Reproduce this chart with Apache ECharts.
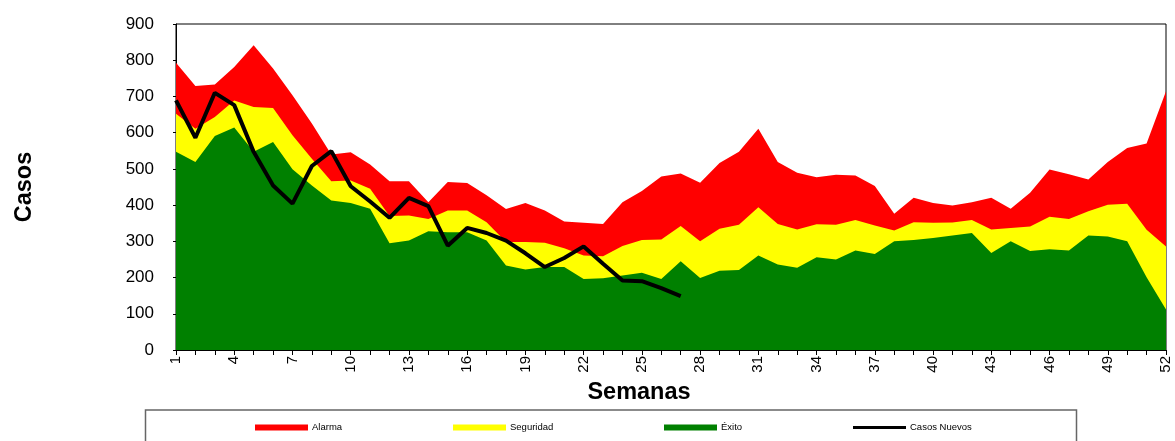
<!DOCTYPE html>
<html>
<head>
<meta charset="utf-8">
<script src="https://cdn.jsdelivr.net/npm/echarts@6/dist/echarts.min.js"></script>
<style>html,body{margin:0;padding:0;background:#fff}#c{width:1175px;height:441px}</style>
</head>
<body>
<div id="c"></div>
<script>
const weeks = Array.from({length: 52}, (_, i) => String(i + 1));
const alarma = [793,729,733,781,841,777,703,625,540,546,512,466,466,408,464,461,427,389,
  406,385,355,351,348,408,439,479,487,462,516,547,611,519,489,477,484,
  482,453,376,420,406,399,408,420,390,434,498,485,471,519,558,570,714];
const seguridad = [652,611,643,689,671,668,593,528,466,468,445,370,371,362,385,385,353,298,
  298,296,281,261,259,287,304,305,342,300,335,346,394,348,333,347,346,
  359,344,330,353,351,352,359,333,337,341,368,362,383,401,404,332,286];
const exito = [547,519,591,614,547,574,499,454,413,406,390,295,302,328,325,325,302,233,
  222,229,229,196,198,206,213,196,245,199,219,221,261,236,227,256,250,
  275,265,300,304,309,316,323,268,300,273,278,275,316,313,300,201,112];
const casosNuevos = [689,586,710,676,547,454,404,508,549,452,410,365,420,397,288,337,323,302,
  267,229,254,286,238,192,190,171,149];

const chart = echarts.init(document.getElementById('c'));
const font = 'Liberation Sans, Arial, sans-serif';
function areaSeries(name, data, color) {
  return {
    name, type: 'line', data, symbol: 'none', showSymbol: false,
    lineStyle: {width: 0, color}, itemStyle: {color},
    areaStyle: {color, opacity: 1}, silent: true, animation: false
  };
}
function legend(name, left, h) {
  return {
    data: [{name, icon: 'rect'}], left, top: 422, itemWidth: 53, itemHeight: h, itemGap: 0,
    padding: 0, textStyle: {fontSize: 9.5, lineHeight: 11, fontFamily: font, color: '#000', padding: [0,0,0,-1]},
    selectedMode: false
  };
}
chart.setOption({
  animation: false,
  backgroundColor: '#fff',
  grid: {left: 176, right: 9, top: 24, bottom: 91, show: true, borderColor: '#000', borderWidth: 1, backgroundColor: 'transparent'},
  xAxis: {
    type: 'category', data: weeks, boundaryGap: false,
    axisLine: {lineStyle: {color: '#000', width: 1}},
    axisTick: {interval: 0, length: 5, lineStyle: {color: '#000'}},
    axisLabel: {interval: 2, rotate: 90, fontSize: 15, fontFamily: font, color: '#000', margin: 6},
    splitLine: {show: false}
  },
  yAxis: {
    type: 'value', min: 0, max: 900, interval: 100,
    name: 'Casos', nameLocation: 'middle', nameGap: 139,
    nameTextStyle: {fontSize: 23.5, fontWeight: 'bold', fontFamily: font, color: '#000'},
    axisLine: {show: true, lineStyle: {color: '#000'}},
    axisTick: {show: true, length: 3, lineStyle: {color: '#000'}},
    axisLabel: {fontSize: 17, fontFamily: font, color: '#000', margin: 22},
    splitLine: {show: false}
  },
  legend: [
    legend('Alarma', 255, 6),
    legend('Seguridad', 453, 6),
    legend('Éxito', 664, 6),
    legend('Casos Nuevos', 853, 3)
  ],
  graphic: [
    {type: 'rect', shape: {x: 145.5, y: 410, width: 931, height: 40}, style: {fill: 'none', stroke: '#666', lineWidth: 1.5}, silent: true, z: -1},
    {type: 'text', x: 639, y: 393, style: {text: 'Semanas', fontSize: 23.5, fontWeight: 'bold', fontFamily: font, fill: '#000', align: 'center', verticalAlign: 'middle'}}
  ],
  series: [
    areaSeries('Alarma', alarma, '#ff0000'),
    areaSeries('Seguridad', seguridad, '#ffff00'),
    areaSeries('Éxito', exito, '#008000'),
    {name: 'Casos Nuevos', type: 'line', data: casosNuevos, symbol: 'none', showSymbol: false,
     lineStyle: {width: 4, color: '#000'}, itemStyle: {color: '#000'}, z: 5, animation: false}
  ]
});
</script>
</body>
</html>
